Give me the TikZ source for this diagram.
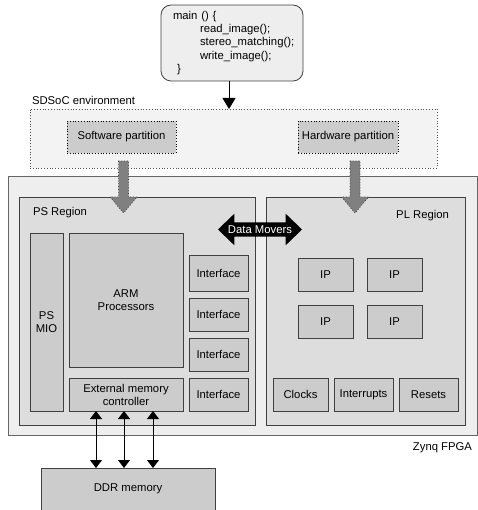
\documentclass[tikz,border=0pt]{standalone}
\usepackage{fontspec}
\setmainfont{Liberation Sans}
\usetikzlibrary{arrows.meta,shapes.arrows,calc}
\definecolor{outerfill}{HTML}{EEEEEE}
\definecolor{regfill}{HTML}{DDDDDD}
\definecolor{boxfill}{HTML}{CCCCCC}
\definecolor{edge}{HTML}{404040}
\definecolor{arrowgray}{HTML}{808080}
\newcommand\pbox[7]{\node[#1, minimum width={(#5)-(#3)}, minimum height={(#6)-(#4)}] (#2) at ({((#3)+(#5))/2},{((#4)+(#6))/2}) {#7};}
\tikzset{
  base/.style={inner sep=0pt, outer sep=0pt, font=\fontsize{11.3}{13}\selectfont, align=center, line width=0.8pt},
  outerbox/.style={base, draw=edge!80, fill=outerfill},
  regbox/.style={base, draw=edge, fill=regfill},
  blockbox/.style={base, draw=edge, fill=boxfill},
  envbox/.style={base, draw=edge!90, dotted, fill=outerfill!70!white},
  partbox/.style={base, draw=black, dotted, fill=boxfill, text=black},
  mainbox/.style={base, draw=edge, fill=outerfill, rounded corners=10pt, align=left},
  lbl/.style={inner sep=0pt, outer sep=0pt, font=\fontsize{11.3}{13}\selectfont},
  bigarrow/.style={fill=arrowgray, draw=edge, dotted, line width=0.8pt},
  conn/.style={line width=0.9pt, -{Triangle[length=11pt,width=13pt]}},
  dconn/.style={line width=0.9pt, {Triangle[length=8pt,width=12pt]}-{Triangle[length=8pt,width=12pt]}},
}
\begin{document}
\begin{tikzpicture}[x=1pt,y=-1pt]
\useasboundingbox (0,0) rectangle (477,510);
% main code box
\node[mainbox, minimum width=142, minimum height=76, inner xsep=12pt, text width=118pt,
      font=\fontsize{11.3}{13.3}\selectfont] (main) at (232,43)
  {main () \{\\\hspace*{27pt}read\_image();\\\hspace*{27pt}stereo\_matching();\\\hspace*{27pt}write\_image();\\\hspace*{4pt}\}};
% SDSoC environment
\node[lbl, anchor=west] (envlbl) at (32,100) {SDSoC environment};
\pbox{envbox}{env}{30}{109}{437}{168}{}
\pbox{partbox}{sw}{67}{121}{176}{153}{Software partition}
\pbox{partbox}{hw}{298}{121}{398}{153}{Hardware partition}
\draw[conn] (main.south -| 229,0) -- (env.north -| 229,0);
% Zynq outer box
\pbox{outerbox}{zynq}{8}{176}{477}{435}{}
\pbox{regbox}{ps}{19}{197}{255}{425}{}
\pbox{regbox}{pl}{266}{197}{465}{425}{}
\node[lbl, anchor=west] (pslbl) at (33,213) {PS Region};
\node[lbl, anchor=east] (pllbl) at (449,216) {PL Region};
\node[lbl, anchor=east] (zynqlbl) at (472,448) {Zynq FPGA};
% big gray arrows
\coordinate (swa) at (123.5,161);
\coordinate (hwa) at (355,161);
\foreach \c in {swa,hwa}{
  \draw[bigarrow] ($(\c)+(-5,0)$) -- ($(\c)+(-5,36)$) -- ($(\c)+(-13.5,36)$) -- ($(\c)+(0,52)$)
     -- ($(\c)+(13.5,36)$) -- ($(\c)+(5,36)$) -- ($(\c)+(5,0)$) -- cycle;
}
% PS blocks
\pbox{blockbox}{mio}{30}{233}{63}{411}{PS\\MIO}
\pbox{blockbox}{arm}{69}{233}{183}{367}{ARM\\Processors}
\pbox{blockbox}{emc}{69}{378}{183}{411}{External memory\\controller}
\pbox{blockbox}{if1}{189}{255}{248}{291}{Interface}
\pbox{blockbox}{if2}{189}{298}{248}{331}{Interface}
\pbox{blockbox}{if3}{189}{338}{248}{371}{Interface}
\pbox{blockbox}{if4}{189}{378}{248}{411}{Interface}
% PL blocks
\pbox{blockbox}{ip1}{298}{258}{353}{291}{IP}
\pbox{blockbox}{ip2}{367}{258}{422}{291}{IP}
\pbox{blockbox}{ip3}{298}{305}{353}{338}{IP}
\pbox{blockbox}{ip4}{367}{305}{422}{338}{IP}
\pbox{blockbox}{clk}{273}{378}{328}{411}{Clocks}
\pbox{blockbox}{irq}{334}{378}{393}{411}{Interrupts}
\pbox{blockbox}{rst}{399}{378}{458}{411}{Resets}
% Data movers
\node[double arrow, fill=black, text=white, lbl, inner xsep=0pt, inner ysep=3pt,
      text height=8pt, text depth=0pt, minimum height=84pt,
      double arrow head extend=8.5pt, double arrow tip angle=88] (dm) at (260,229.5) {Data Movers};
% DDR
\pbox{blockbox}{ddr}{41}{468}{215}{530}{}
\node[lbl] (ddrlbl) at (128,489) {DDR memory};
\foreach \x in {96,124,153}{
  \draw[dconn] (emc.south -| \x,0) -- (ddr.north -| \x,0);
}
\end{tikzpicture}
\end{document}
